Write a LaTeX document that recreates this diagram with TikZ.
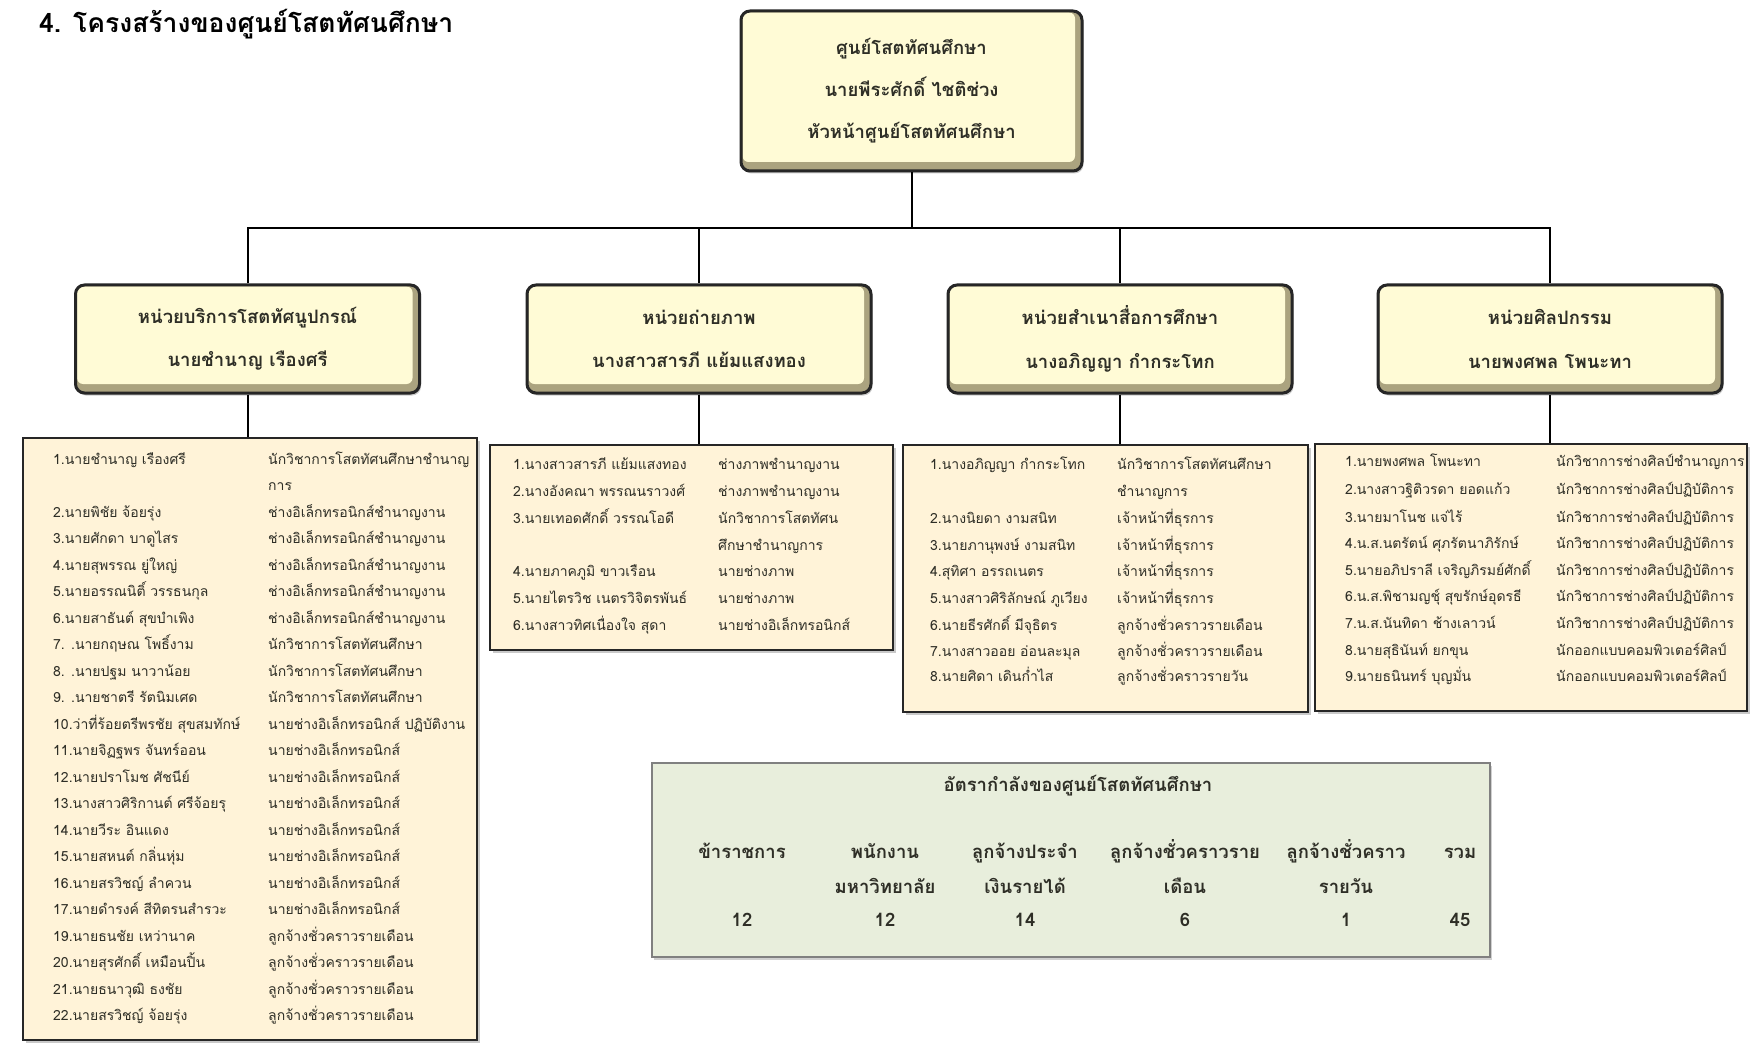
\documentclass[tikz,border=0pt]{standalone}
\usepackage{fontspec}
\newfontfamily\thai[Script=Thai]{Loma}
\usetikzlibrary{shadows}
\definecolor{cream}{HTML}{FFFBD6}
\definecolor{bevel}{HTML}{ABA37F}
\definecolor{listfill}{HTML}{FFF3D8}
\definecolor{tabfill}{HTML}{E8EEDC}
\definecolor{tabline}{HTML}{808080}
\definecolor{txt}{HTML}{2E2E26}
\definecolor{edge}{HTML}{262626}
\begin{document}
\begin{tikzpicture}[x=1pt,y=-1pt,
  unitbox/.style={rounded corners=9pt, draw=edge, line width=3pt, fill=bevel,
    path picture={\fill[cream, rounded corners=6pt]
      ([shift={(1.5pt,-1.5pt)}]path picture bounding box.north west) rectangle
      ([shift={(-7pt,9pt)}]path picture bounding box.south east);},
    drop shadow={shadow xshift=1.5pt, shadow yshift=-2.5pt, opacity=.45, fill=black!45},
    inner sep=0, align=center, text=txt},
  listbox/.style={draw=edge, line width=1.6pt, fill=listfill,
    drop shadow={shadow xshift=3pt, shadow yshift=-3pt, opacity=.35, fill=black!60}},
  tabbox/.style={draw=tabline, line width=2pt, fill=tabfill,
    drop shadow={shadow xshift=2pt, shadow yshift=-3pt, opacity=.3, fill=black!60}},
  conn/.style={draw=black, line width=2pt},
  listtxt/.style={anchor=base west, inner sep=0, text=txt,
    font=\thai\fontsize{14}{16}\selectfont},
  tabtxt/.style={anchor=base, inner sep=0, text=txt,
    font=\thai\bfseries\fontsize{18.5}{20}\selectfont},
  titletxt/.style={anchor=base west, inner sep=0, text=black,
    font=\thai\bfseries\fontsize{26.5}{30}\selectfont}
]
\useasboundingbox (0,0) rectangle (1753,1048);
\fill[white] (0,0) rectangle (1753,1048);

\node[titletxt] (title) at (39,33) {4. โครงสร้างของศูนย์โสตทัศนศึกษา};

% boxes
\node[unitbox, minimum width=341pt, minimum height=160pt,
  font=\thai\bfseries\fontsize{18.5}{42}\selectfont] (top) at (911.5,91)
  {ศูนย์โสตทัศนศึกษา\\นายพีระศักดิ์ ไชติช่วง\\หัวหน้าศูนย์โสตทัศนศึกษา};
\begin{scope}[every node/.append style={minimum width=344pt, minimum height=108pt,
  font=\thai\bfseries\fontsize{18.5}{43.5}\selectfont}]
\node[unitbox] (u1) at (247.5,339) {หน่วยบริการโสตทัศนูปกรณ์\\นายชำนาญ เรืองศรี};
\node[unitbox] (u2) at (699,339) {หน่วยถ่ายภาพ\\นางสาวสารภี แย้มแสงทอง};
\node[unitbox] (u3) at (1120,339) {หน่วยสำเนาสื่อการศึกษา\\นางอภิญญา กำกระโทก};
\node[unitbox] (u4) at (1550,339) {หน่วยศิลปกรรม\\นายพงศพล โพนะทา};
\end{scope}

\node[listbox, minimum width=454pt, minimum height=602pt] (l1) at (250,739) {};
\node[listbox, minimum width=403pt, minimum height=205pt] (l2) at (691.5,547.5) {};
\node[listbox, minimum width=405pt, minimum height=267pt] (l3) at (1105.5,578.5) {};
\node[listbox, minimum width=432pt, minimum height=267pt] (l4) at (1531,577.5) {};
\node[tabbox, minimum width=838pt, minimum height=194pt] (tab) at (1071,860) {};

% connectors
\coordinate (busL) at (247.5,228);
\draw[conn] (u1.north) -- (u1.north |- busL) -- (u4.north |- busL) -- (u4.north);
\draw[conn] (top.south) -- (top.south |- busL);
\draw[conn] (u2.north) -- (u2.north |- busL);
\draw[conn] (u3.north) -- (u3.north |- busL);
\draw[conn] (u1.south) -- (u1.south |- l1.north);
\draw[conn] (u2.south) -- (u2.south |- l2.north);
\draw[conn] (u3.south) -- (u3.south |- l3.north);
\draw[conn] (u4.south) -- (u4.south |- l4.north);

% list 1
\foreach \yy/\aa/\bb [count=\i] in {
 464/1.นายชำนาญ เรืองศรี/นักวิชาการโสตทัศนศึกษาชำนาญ,
 517/2.นายพิชัย จ้อยรุ่ง/ช่างอิเล็กทรอนิกส์ชำนาญงาน,
 543.5/3.นายศักดา บาดูไสร/ช่างอิเล็กทรอนิกส์ชำนาญงาน,
 570/4.นายสุพรรณ ยู่ใหญ่/ช่างอิเล็กทรอนิกส์ชำนาญงาน,
 596.5/5.นายอรรณนิติ์ วรรธนกุล/ช่างอิเล็กทรอนิกส์ชำนาญงาน,
 623/6.นายสาธันต์ สุขบำเพิง/ช่างอิเล็กทรอนิกส์ชำนาญงาน,
 649.5/7. .นายกฤษณ โพธิ์งาม/นักวิชาการโสตทัศนศึกษา,
 676/8. .นายปฐม นาวาน้อย/นักวิชาการโสตทัศนศึกษา,
 702.5/9. .นายชาตรี รัตนิมเศด/นักวิชาการโสตทัศนศึกษา,
 729/10.ว่าที่ร้อยตรีพรชัย สุขสมทักษ์/นายช่างอิเล็กทรอนิกส์ ปฏิบัติงาน,
 755.5/11.นายจิฏฐพร จันทร์ออน/นายช่างอิเล็กทรอนิกส์,
 782/12.นายปราโมช ศัชนีย์/นายช่างอิเล็กทรอนิกส์,
 808.5/13.นางสาวศิริกานต์ ศรีจ้อยรุ/นายช่างอิเล็กทรอนิกส์,
 835/14.นายวีระ อินแดง/นายช่างอิเล็กทรอนิกส์,
 861.5/15.นายสหนต์ กลิ่นหุ่ม/นายช่างอิเล็กทรอนิกส์,
 888/16.นายสรวิชญ์ ลำควน/นายช่างอิเล็กทรอนิกส์,
 914.5/17.นายดำรงค์ สีทิตรนสำรวะ/นายช่างอิเล็กทรอนิกส์,
 941/19.นายธนชัย เหว่านาค/ลูกจ้างชั่วคราวรายเดือน,
 967.5/20.นายสุรศักดิ์ เหมือนปิ้น/ลูกจ้างชั่วคราวรายเดือน,
 994/21.นายธนาวุฒิ ธงชัย/ลูกจ้างชั่วคราวรายเดือน,
 1020.5/22.นายสรวิชญ์ จ้อยรุ่ง/ลูกจ้างชั่วคราวรายเดือน}
{\node[listtxt] (a1-\i) at (53,\yy) {\aa};
 \node[listtxt] (b1-\i) at (268,\yy) {\bb};}
\node[listtxt] (b1-c) at (268,490) {การ};

% list 2
\foreach \yy/\aa/\bb [count=\i] in {
 469/1.นางสาวสารภี แย้มแสงทอง/ช่างภาพชำนาญงาน,
 496/2.นางอังคณา พรรณนราวงศ์/ช่างภาพชำนาญงาน,
 523/3.นายเทอดศักดิ์ วรรณโอดี/นักวิชาการโสตทัศน,
 576/4.นายภาคภูมิ ขาวเรือน/นายช่างภาพ,
 603/5.นายไตรวิช เนตรวิจิตรพันธ์/นายช่างภาพ,
 630/6.นางสาวทิศเนื่องใจ สุดา/นายช่างอิเล็กทรอนิกส์}
{\node[listtxt] (a2-\i) at (513,\yy) {\aa};
 \node[listtxt] (b2-\i) at (718,\yy) {\bb};}
\node[listtxt] (b2-c) at (718,550) {ศึกษาชำนาญการ};

% list 3
\foreach \yy/\aa/\bb [count=\i] in {
 469/1.นางอภิญญา กำกระโทก/นักวิชาการโสตทัศนศึกษา,
 523/2.นางนิยดา งามสนิท/เจ้าหน้าที่ธุรการ,
 550/3.นายภานุพงษ์ งามสนิท/เจ้าหน้าที่ธุรการ,
 576/4.สุทิศา อรรถเนตร/เจ้าหน้าที่ธุรการ,
 603/5.นางสาวศิริลักษณ์ ภูเวียง/เจ้าหน้าที่ธุรการ,
 630/6.นายธีรศักดิ์ มีจุธิตร/ลูกจ้างชั่วคราวรายเดือน,
 656/7.นางสาวออย อ่อนละมุล/ลูกจ้างชั่วคราวรายเดือน,
 681/8.นายศิดา เดินก่ำไส/ลูกจ้างชั่วคราวรายวัน}
{\node[listtxt] (a3-\i) at (930,\yy) {\aa};
 \node[listtxt] (b3-\i) at (1117,\yy) {\bb};}
\node[listtxt] (b3-c) at (1117,496) {ชำนาญการ};

% list 4
\foreach \yy/\aa/\bb [count=\i] in {
 466/1.นายพงศพล โพนะทา/นักวิชาการช่างศิลป์ชำนาญการ,
 494/2.นางสาวฐิติวรดา ยอดแก้ว/นักวิชาการช่างศิลป์ปฏิบัติการ,
 522/3.นายมาโนช แจ่ไร้/นักวิชาการช่างศิลป์ปฏิบัติการ,
 548/4.น.ส.นตรัตน์ ศุภรัตนาภิรักษ์/นักวิชาการช่างศิลป์ปฏิบัติการ,
 575/5.นายอภิปราลี เจริญภิรมย์ศักดิ์/นักวิชาการช่างศิลป์ปฏิบัติการ,
 601/6.น.ส.พิชามญชุ์ สุขรักษ์อุดรธี/นักวิชาการช่างศิลป์ปฏิบัติการ,
 628/7.น.ส.นันทิดา ช้างเลาวน์/นักวิชาการช่างศิลป์ปฏิบัติการ,
 655/8.นายสุธินันท์ ยกขุน/นักออกแบบคอมพิวเตอร์ศิลป์,
 681/9.นายธนินทร์ บุญมั่น/นักออกแบบคอมพิวเตอร์ศิลป์}
{\node[listtxt] (a4-\i) at (1345,\yy) {\aa};
 \node[listtxt] (b4-\i) at (1556,\yy) {\bb};}

% table
\node[tabtxt] (tabtitle) at (1078,791) {อัตรากำลังของศูนย์โสตทัศนศึกษา};
\foreach \xx/\hh/\nn [count=\i] in {
 742/ข้าราชการ/12, 885/พนักงาน/12, 1025/ลูกจ้างประจำ/14,
 1185/ลูกจ้างชั่วคราวราย/6, 1346/ลูกจ้างชั่วคราว/1, 1460/รวม/45}
{\node[tabtxt] (h-\i) at (\xx,858) {\hh};
 \node[tabtxt] (n-\i) at (\xx,926) {\nn};}
\foreach \xx/\hh [count=\i] in {885/มหาวิทยาลัย, 1025/เงินรายได้, 1185/เดือน, 1346/รายวัน}
{\node[tabtxt] (g-\i) at (\xx,893) {\hh};}
\end{tikzpicture}
\end{document}
